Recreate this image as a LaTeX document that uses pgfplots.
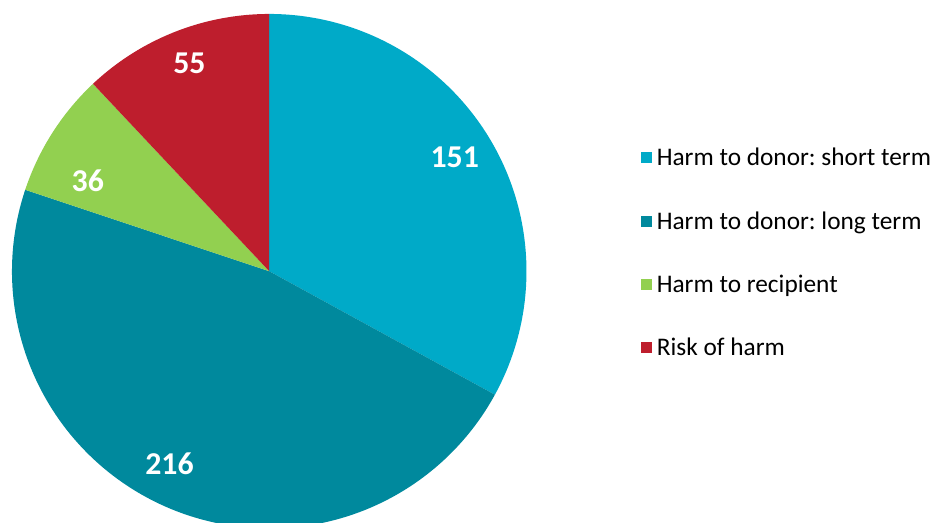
\documentclass[border=0pt]{standalone}
\usepackage{pgfplots}
\pgfplotsset{compat=1.18}
\usepackage{fontspec}
\setmainfont{Carlito}
\frenchspacing
\definecolor{cshort}{RGB}{0,170,200}
\definecolor{clong}{RGB}{0,137,157}
\definecolor{crec}{RGB}{146,208,80}
\definecolor{crisk}{RGB}{190,30,45}
% slice values
\def\vA{151}\def\vB{216}\def\vC{36}\def\vD{55}
\pgfmathsetmacro{\tot}{\vA+\vB+\vC+\vD}
\pgfmathsetmacro{\aA}{90-\vA/\tot*360}
\pgfmathsetmacro{\aB}{\aA-\vB/\tot*360}
\pgfmathsetmacro{\aC}{\aB-\vC/\tot*360}
\pgfmathsetmacro{\aD}{\aC-\vD/\tot*360}
\def\cx{270}\def\cy{253}\def\rr{258}
\begin{document}
\begin{tikzpicture}
\begin{axis}[
  scale only axis, width=933bp, height=525bp,
  xmin=0, xmax=933, ymin=0, ymax=525,
  hide axis, clip=true,
  legend style={at={(axis cs:643,378.5)}, anchor=north west, draw=none, fill=none,
    font=\fontsize{25.5}{30}\selectfont, row sep=40.5bp, inner sep=0pt,
    cells={anchor=west}},
  legend image code/.code={\fill[#1] (0bp,-5.5bp) rectangle (11bp,5.5bp);
    \path (13.5bp,0bp);},
]
\addplot[fill=cshort, draw=none, domain=\aA:90, samples=120, variable=\t]
  ({\cx+\rr*cos(\t)},{\cy+\rr*sin(\t)}) -- (axis cs:\cx,\cy) -- cycle;
\addlegendentry{Harm to donor: short term}
\addplot[fill=clong, draw=none, domain=\aB:\aA, samples=160, variable=\t]
  ({\cx+\rr*cos(\t)},{\cy+\rr*sin(\t)}) -- (axis cs:\cx,\cy) -- cycle;
\addlegendentry{Harm to donor: long term}
\addplot[fill=crec, draw=none, domain=\aC:\aB, samples=40, variable=\t]
  ({\cx+\rr*cos(\t)},{\cy+\rr*sin(\t)}) -- (axis cs:\cx,\cy) -- cycle;
\addlegendentry{Harm to recipient}
\addplot[fill=crisk, draw=none, domain=\aD:\aC, samples=50, variable=\t]
  ({\cx+\rr*cos(\t)},{\cy+\rr*sin(\t)}) -- (axis cs:\cx,\cy) -- cycle;
\addlegendentry{Risk of harm}
\addplot[only marks, mark=none, nodes near coords, point meta=explicit symbolic,
  every node near coord/.style={anchor=center, text=white,
    font=\fontsize{32}{34}\selectfont\bfseries}, forget plot]
  coordinates {(456,367)[151] (170,60)[216] (88,344)[36] (190,462)[55]};
\draw[white, line width=0.4pt] (rel axis cs:0,0) rectangle (rel axis cs:1,1);
\end{axis}
\end{tikzpicture}
\end{document}
